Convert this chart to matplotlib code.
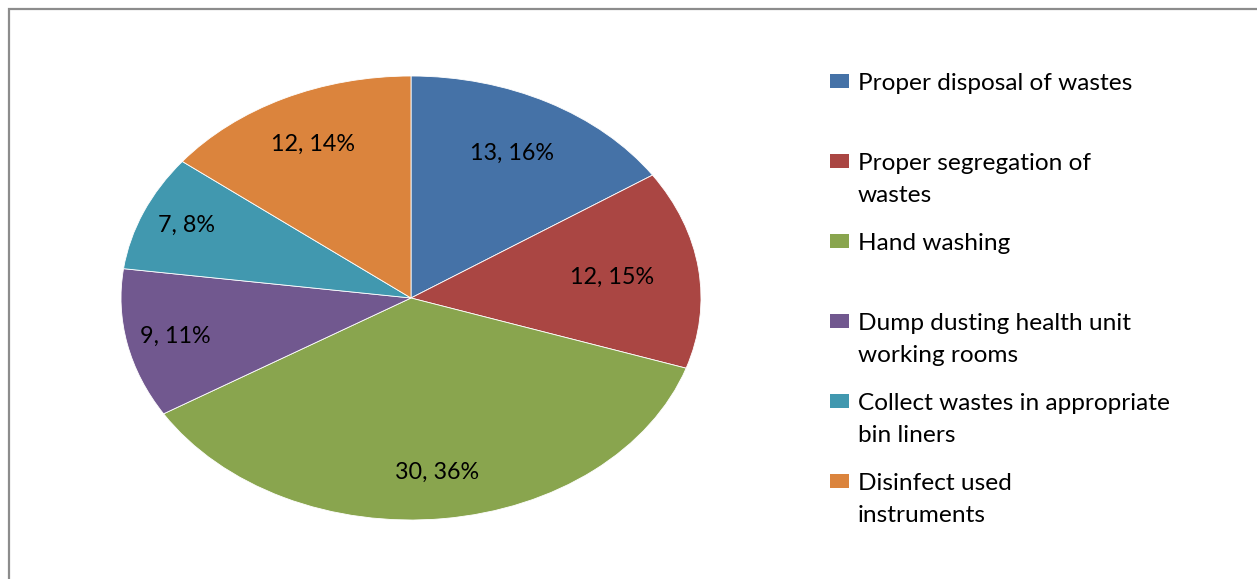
import matplotlib
matplotlib.use("Agg")
import matplotlib.pyplot as plt
from matplotlib.patches import Rectangle
import numpy as np

categories = [
    "Proper disposal of wastes",
    "Proper segregation of\nwastes",
    "Hand washing",
    "Dump dusting health unit\nworking rooms",
    "Collect wastes in appropriate\nbin liners",
    "Disinfect used\ninstruments",
]
counts = [13, 12, 30, 9, 7, 12]
percent_labels = ["16%", "15%", "36%", "11%", "8%", "14%"]
colors = ["#4572A7", "#AA4643", "#89A54E", "#71588F", "#4198AF", "#DB843D"]
# radial placement of the data labels (fraction of the radius), per slice
label_radius = [0.74, 0.70, 0.79, 0.83, 0.84, 0.77]

FONT = "Lato"
W, H = 1257, 579
fig = plt.figure(figsize=(W / 100, H / 100), dpi=100)
fig.patch.set_facecolor("white")

# outer chart border
fig.add_artist(Rectangle((8.5 / W, -0.1), 1.2, (579 - 9.5) / H + 0.1,
                         transform=fig.transFigure, fill=False,
                         edgecolor="#8c8c8c", linewidth=1.6))

ax = fig.add_axes([121 / W, (579 - 520) / H, 580 / W, 444 / H])
slice_labels = [f"{c}, {p}" for c, p in zip(counts, percent_labels)]
wedges, _ = ax.pie(counts, colors=colors, startangle=90, counterclock=False,
                   wedgeprops=dict(edgecolor="white", linewidth=0.6))
for w, lab, r in zip(wedges, slice_labels, label_radius):
    mid = np.deg2rad((w.theta1 + w.theta2) / 2)
    ax.text(r * np.cos(mid), r * np.sin(mid), lab, ha="center", va="center",
            fontsize=16.8, family=FONT, color="black")
ax.set_aspect("auto")
ax.set_xlim(-1, 1)
ax.set_ylim(-1, 1)

# legend, Excel style: equal slots, text top aligned
first_baseline = 90
slot_h = 80
line_h = 31.5
for i, (lab, w) in enumerate(zip(categories, wedges)):
    base = first_baseline + i * slot_h
    for k, line in enumerate(lab.split("\n")):
        fig.text(858 / W, 1 - (base + k * line_h) / H, line, ha="left",
                 va="baseline", fontsize=17.6, family=FONT, color="black")
    fig.add_artist(Rectangle((830 / W, 1 - (base - 2) / H), 19 / W, 14 / H,
                             transform=fig.transFigure,
                             facecolor=w.get_facecolor(), edgecolor="none"))

fig.savefig("out.png", dpi=100, facecolor="white")
